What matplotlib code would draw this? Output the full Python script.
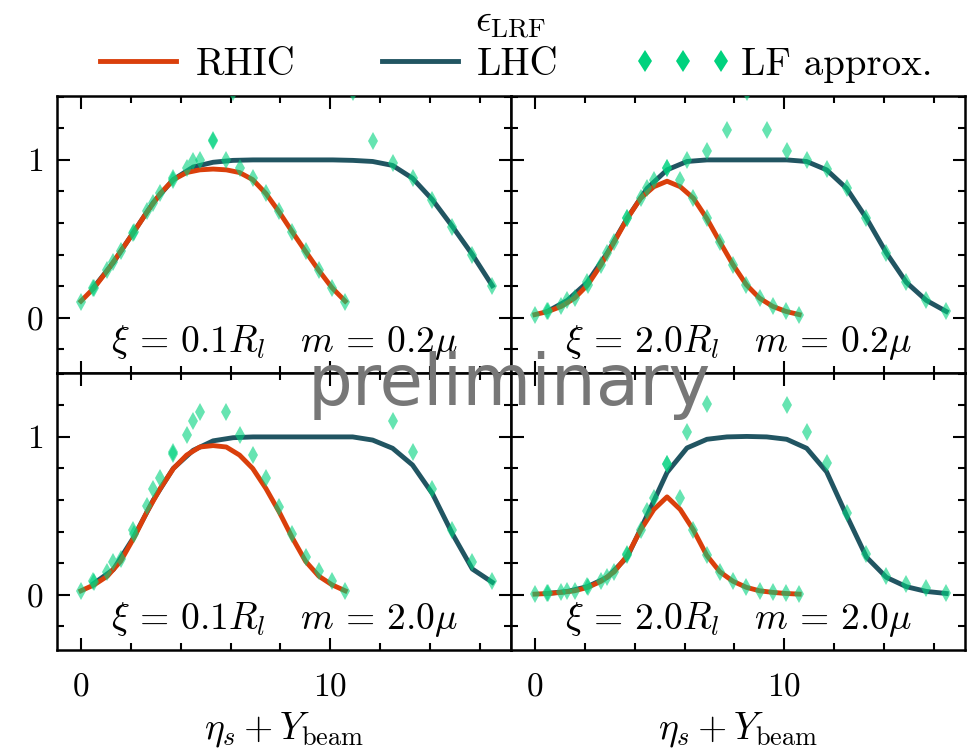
import numpy as np
import matplotlib
matplotlib.use("Agg")
import matplotlib.pyplot as plt
from matplotlib.ticker import MultipleLocator, NullFormatter

plt.rcParams.update({
    "font.family": "serif",
    "font.serif": ["cmr10"],
    "mathtext.fontset": "cm",
    "axes.formatter.use_mathtext": True,
    "axes.unicode_minus": False,
})

# rapidity grids (eta_s + Y_beam)
eta_rhic = [0.0, 0.53, 1.06, 1.59, 2.12, 2.65, 3.18, 3.71, 4.24, 4.77, 5.30,
            5.83, 6.36, 6.89, 7.42, 7.95, 8.48, 9.01, 9.54, 10.07, 10.60]
eta_lhc = [0.5, 1.3, 2.1, 2.9, 3.7, 4.5, 5.3, 6.1, 6.9, 7.7, 8.5,
           9.3, 10.1, 10.9, 11.7, 12.5, 13.3, 14.1, 14.9, 15.7, 16.5]

# xi = 0.1 R_l, m = 0.2 mu
rhic_a = [0.105, 0.19, 0.30, 0.42, 0.543, 0.67, 0.787, 0.875, 0.92, 0.937, 0.942,
          0.937, 0.92, 0.875, 0.787, 0.67, 0.543, 0.42, 0.30, 0.19, 0.105]
rhic_lf_a = [0.10, 0.19, 0.30, 0.42, 0.545, 0.675, 0.79, 0.885, 0.947, 1.0, 1.125,
             1.0, 0.947, 0.885, 0.79, 0.675, 0.545, 0.42, 0.30, 0.19, 0.10]
lhc_a = [0.19, 0.35, 0.54, 0.73, 0.875, 0.955, 0.985, 0.997, 1.0, 1.0, 1.0,
         1.0, 1.0, 0.997, 0.99, 0.965, 0.884, 0.747, 0.578, 0.40, 0.203]
lhc_lf_a = [0.19, 0.35, 0.54, 0.73, 0.875, 0.99, 1.12, 1.43, 1.9, 2.3, 2.5,
            2.3, 1.9, 1.43, 1.12, 0.98, 0.884, 0.747, 0.578, 0.40, 0.203]

# xi = 2.0 R_l, m = 0.2 mu
rhic_b = [0.02, 0.04, 0.072, 0.124, 0.209, 0.335, 0.48, 0.63, 0.757, 0.83, 0.865,
          0.83, 0.757, 0.63, 0.48, 0.335, 0.209, 0.124, 0.072, 0.04, 0.02]
rhic_lf_b = [0.02, 0.04, 0.072, 0.124, 0.209, 0.335, 0.48, 0.63, 0.757, 0.875, 0.95,
             0.875, 0.757, 0.63, 0.48, 0.335, 0.209, 0.124, 0.072, 0.04, 0.02]
lhc_b = [0.04, 0.11, 0.224, 0.41, 0.63, 0.82, 0.937, 0.99, 1.0, 1.0, 1.0,
         1.0, 1.0, 0.99, 0.937, 0.82, 0.63, 0.41, 0.224, 0.11, 0.04]
lhc_lf_b = [0.04, 0.11, 0.224, 0.41, 0.63, 0.82, 0.95, 1.0, 1.057, 1.19, 1.43,
            1.19, 1.057, 1.0, 0.945, 0.82, 0.63, 0.41, 0.224, 0.11, 0.04]

# xi = 0.1 R_l, m = 2.0 mu
rhic_c = [0.025, 0.063, 0.118, 0.212, 0.36, 0.525, 0.673, 0.80, 0.885, 0.936, 0.945,
          0.936, 0.885, 0.80, 0.673, 0.525, 0.36, 0.212, 0.118, 0.063, 0.025]
rhic_lf_c = [0.025, 0.079, 0.142, 0.228, 0.386, 0.562, 0.737, 0.89, 1.013, 1.16, 1.55,
             1.16, 1.013, 0.885, 0.737, 0.556, 0.386, 0.238, 0.153, 0.089, 0.025]
lhc_c = [0.07, 0.16, 0.36, 0.60, 0.80, 0.915, 0.975, 0.995, 1.0, 1.0, 1.0,
         1.0, 1.0, 1.0, 0.98, 0.928, 0.822, 0.64, 0.386, 0.163, 0.079]
lhc_lf_c = [0.089, 0.206, 0.408, 0.673, 0.907, 1.098, 1.6, 1.8, 2.0, 2.0, 2.0,
            2.0, 2.0, 1.8, 1.6, 1.098, 0.907, 0.673, 0.408, 0.206, 0.089]

# xi = 2.0 R_l, m = 2.0 mu
rhic_d = [0.004, 0.008, 0.015, 0.025, 0.047, 0.085, 0.145, 0.25, 0.41, 0.54, 0.62,
          0.54, 0.41, 0.25, 0.145, 0.085, 0.047, 0.025, 0.015, 0.008, 0.004]
rhic_lf_d = [0.004, 0.008, 0.015, 0.025, 0.047, 0.085, 0.145, 0.25, 0.41, 0.61, 0.83,
             0.61, 0.41, 0.25, 0.145, 0.085, 0.047, 0.025, 0.015, 0.008, 0.004]
lhc_d = [0.008, 0.021, 0.051, 0.11, 0.238, 0.503, 0.775, 0.93, 0.985, 1.0, 1.003,
         1.0, 0.985, 0.928, 0.779, 0.503, 0.238, 0.11, 0.051, 0.021, 0.008]
lhc_lf_d = [0.008, 0.021, 0.055, 0.115, 0.26, 0.53, 0.83, 1.034, 1.21, 1.6, 1.8,
            1.6, 1.204, 1.034, 0.836, 0.518, 0.259, 0.121, 0.065, 0.04, 0.008]

panel_labels = [r"$\xi\,=\,0.1R_l \quad m\,=\,0.2\mu$",
                r"$\xi\,=\,2.0R_l \quad m\,=\,0.2\mu$",
                r"$\xi\,=\,0.1R_l \quad m\,=\,2.0\mu$",
                r"$\xi\,=\,2.0R_l \quad m\,=\,2.0\mu$"]

series = [(rhic_a, rhic_lf_a, lhc_a, lhc_lf_a),
          (rhic_b, rhic_lf_b, lhc_b, lhc_lf_b),
          (rhic_c, rhic_lf_c, lhc_c, lhc_lf_c),
          (rhic_d, rhic_lf_d, lhc_d, lhc_lf_d)]

c_rhic = "#DA3F0B"
c_lhc = "#215562"
c_lf = "#00D27E"

fig = plt.figure(figsize=(9.7, 7.51), dpi=100)
gs = fig.add_gridspec(2, 2, left=0.0588, right=0.9948, top=0.8722, bottom=0.1345,
                      wspace=0.0, hspace=0.0)
axes = []
for i in range(2):
    for j in range(2):
        axes.append(fig.add_subplot(gs[i, j]))

for n, ax in enumerate(axes):
    r, rlf, l, llf = series[n]
    h1, = ax.plot(eta_rhic, r, color=c_rhic, lw=3.5, label="RHIC", zorder=3)
    h2, = ax.plot(eta_lhc, l, color=c_lhc, lw=3.5, label="LHC", zorder=2)
    h3, = ax.plot(eta_rhic, rlf, ls="none", marker="d", ms=8.7, mew=0,
                  color=c_lf, alpha=0.6, label="LF approx.", zorder=4)
    ax.plot(eta_lhc, llf, ls="none", marker="d", ms=8.7, mew=0,
            color=c_lf, alpha=0.6, zorder=4)
    ax.set_xlim(-0.96, 17.25)
    ax.set_ylim(-0.35, 1.405)
    ax.xaxis.set_major_locator(MultipleLocator(10))
    ax.xaxis.set_minor_locator(MultipleLocator(2))
    ax.yaxis.set_major_locator(MultipleLocator(1))
    ax.yaxis.set_minor_locator(MultipleLocator(0.2))
    ax.tick_params(which="both", direction="in", top=True, right=True, width=1.5)
    ax.tick_params(which="major", length=9)
    ax.tick_params(which="minor", length=5)
    ax.tick_params(axis="x", labelsize=24, pad=16)
    ax.tick_params(axis="y", labelsize=24, pad=10)
    for s in ax.spines.values():
        s.set_linewidth(1.8)
    ax.text(0.5, 0.11, panel_labels[n], transform=ax.transAxes,
            ha="center", va="center", fontsize=27)
    if n % 2 == 1:
        ax.yaxis.set_major_formatter(NullFormatter())
    if n < 2:
        ax.xaxis.set_major_formatter(NullFormatter())
    else:
        ax.set_xlabel(r"$\eta_s + Y_{\rm beam}$", fontsize=27, labelpad=6)

leg = fig.legend(handles=[h1, h2, h3], loc="upper center", bbox_to_anchor=(0.526, 1.005),
                 ncol=3, frameon=False, fontsize=28, numpoints=3, markerscale=1.3,
                 title=r"$\epsilon_{\rm LRF}$", title_fontsize=28,
                 handlelength=2.55, handletextpad=0.2, columnspacing=1.93,
                 labelspacing=0.15, borderpad=0.2, borderaxespad=0.0)
for lh in leg.legend_handles:
    lh.set_alpha(1.0)

fig.text(0.525, 0.487, "preliminary", family="DejaVu Sans", fontsize=51,
         color="#777777", ha="center", va="center", zorder=10)

fig.savefig("out.png", dpi=100)
